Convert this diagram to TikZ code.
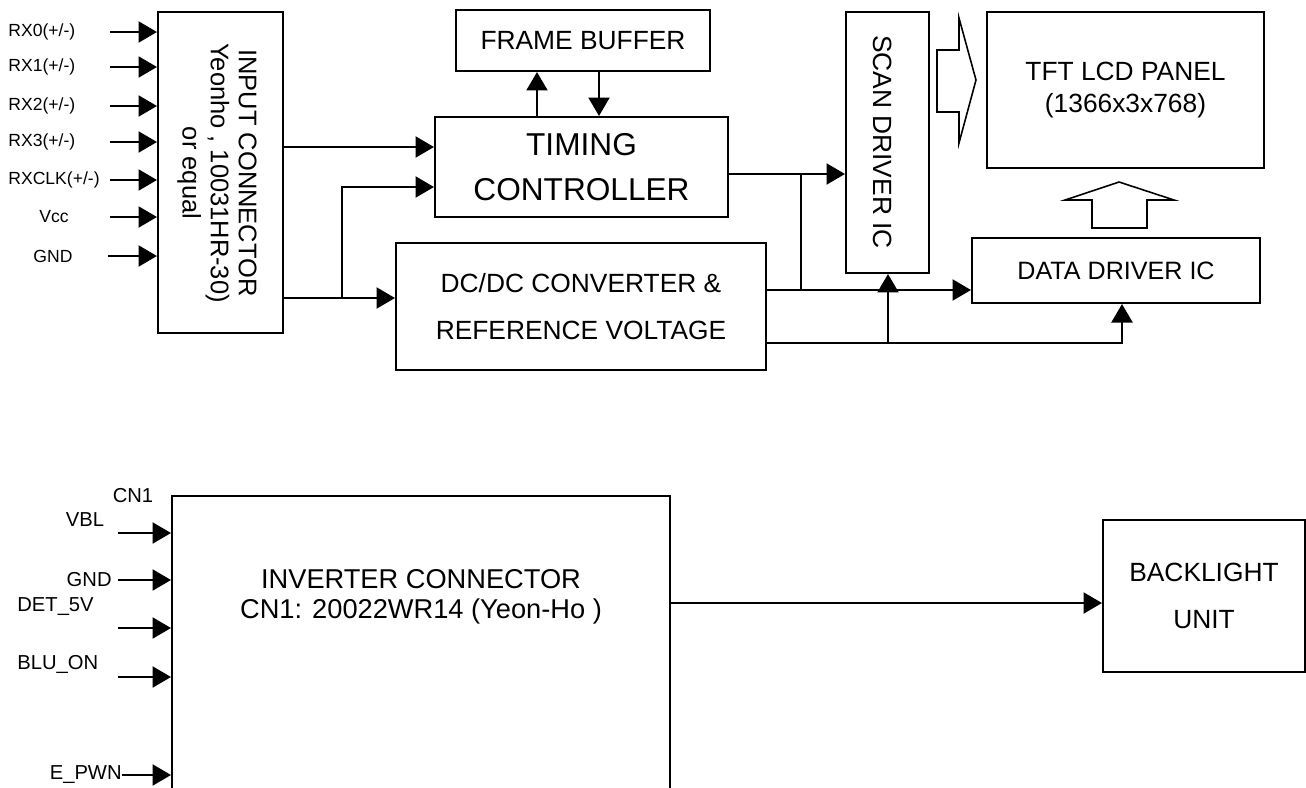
\documentclass[tikz,border=0pt]{standalone}
\usepackage{fontspec}
\setmainfont{Liberation Sans}
\usetikzlibrary{arrows.meta,positioning}

\begin{document}
\begin{tikzpicture}[x=0.02cm,y=-0.02cm,
    box/.style={draw,line width=1.2pt,inner sep=0pt,align=center},
    sig/.style={line width=1.1pt,-{Triangle[length=10.5pt,width=12pt]}},
    wire/.style={line width=1.1pt},
    hollow/.style={draw,line width=0.9pt,line join=miter},
    lbl/.style={inner sep=0pt,font=\fontsize{10}{12}\selectfont},
    blbl/.style={inner sep=0pt,font=\fontsize{11.5}{13}\selectfont}]
        \useasboundingbox (0,0) rectangle (1306,788);
        \clip (0,0) rectangle (1306,788);
        % boxes of the upper block
        \node[box,minimum width=2.5cm,minimum height=6.42cm] (inconn) at (220.5,172.5) {};
        \node[rotate=-90,align=center,inner sep=0pt,font=\fontsize{14.5}{16}\selectfont] (inconntxt) at (217,173)
            {INPUT CONNECTOR\\Yeonho , 10031HR-30)\\or equal};
        \node[box,minimum width=5.08cm,minimum height=1.22cm,font=\fontsize{15}{18}\selectfont] (frame) at (583,40.5) {FRAME BUFFER};
        \node[box,minimum width=5.86cm,minimum height=2cm,font=\fontsize{18}{26}\selectfont] (timing) at (581.5,167) {TIMING\\CONTROLLER};
        \node[box,minimum width=7.4cm,minimum height=2.54cm,font=\fontsize{15}{26.5}\selectfont] (dcdc) at (581,306.5) {DC/DC CONVERTER \&\\REFERENCE VOLTAGE};
        \node[box,minimum width=1.66cm,minimum height=5.22cm] (scan) at (887.5,142.5) {};
        \node[rotate=-90,inner sep=0pt,font=\fontsize{15}{18}\selectfont] (scantxt) at (883,142) {SCAN DRIVER IC};
        \node[box,minimum width=5.54cm,minimum height=3.12cm,font=\fontsize{15}{18}\selectfont] (tft) at (1125.5,90) {TFT LCD PANEL\\(1366x3x768)};
        \node[box,minimum width=5.76cm,minimum height=1.3cm,font=\fontsize{14.3}{17}\selectfont] (data) at (1116,270.5) {DATA DRIVER IC};

        % input pins
        \foreach \y/\t [count=\i] in {32/{RX0(+/-)},67/{RX1(+/-)},106/{RX2(+/-)},142/{RX3(+/-)},180/{RXCLK(+/-)}} {
            \node[lbl,anchor=west] (rx\i) at (8,\y) {\t};
            \coordinate (rs\i) at (110,\y);
            \draw[sig] (rs\i) -- (rs\i -| inconn.west);
        }
        \node[lbl] (vcc) at (54,217) {Vcc};
        \coordinate (vccs) at (110,217);
        \draw[sig] (vccs) -- (vccs -| inconn.west);
        \node[lbl] (gnd) at (53,256) {GND};
        \coordinate (gnds) at (108,256);
        \draw[sig] (gnds) -- (gnds -| inconn.west);

        % connections
        \draw[sig] (inconn.east |- 0,147) -- (timing.west |- 0,147);
        \coordinate (j1) at (342,298);
        \draw[sig] (inconn.east |- j1) -- (dcdc.west |- j1);
        \draw[sig] (j1) -- (342,187) -- (timing.west |- 0,187);
        \draw[sig] (timing.north -| 537,0) -- (frame.south -| 537,0);
        \draw[sig] (frame.south -| 599,0) -- (timing.north -| 599,0);
        \coordinate (j2) at (801,174);
        \draw[sig] (timing.east |- j2) -- (scan.west |- j2);
        \draw[wire] (j2) -- (801,290);
        \draw[sig] (dcdc.east |- 0,290) -- (data.west |- 0,290);
        \coordinate (j3) at (888,343);
        \draw[sig] (dcdc.east |- j3) -- (1122,343) -- (data.south -| 1122,0);
        \draw[sig] (j3) -- (scan.south -| j3);

        % hollow arrows
        \draw[hollow] (937,50) -- (959,50) -- (959,18) -- (976,80) -- (959,143) -- (959,112) -- (937,112) -- cycle;
        \draw[hollow] (1092,228) -- (1092,200) -- (1065,200) -- (1119,182) -- (1174,200) -- (1147,200) -- (1147,228) -- cycle;

        % lower block
        \node[box,minimum width=9.96cm,minimum height=6.48cm] (inv) at (421,658) {};
        \node[align=center,inner sep=0pt,font=\fontsize{15.5}{17}\selectfont] (invtxt) at (421,597)
            {INVERTER CONNECTOR\\CN1: 20022WR14 (Yeon-Ho )};
        \node[box,minimum width=4.04cm,minimum height=3.04cm,font=\fontsize{15}{27}\selectfont] (blu) at (1204,596) {BACKLIGHT\\UNIT};
        \node[blbl] (cn) at (133,496) {CN1};
        \node[blbl] (vbl) at (85,520) {VBL};
        \node[blbl,anchor=east] (gndb) at (112,580) {GND};
        \node[blbl,anchor=west] (det) at (17,607) {DET\_5V};
        \node[blbl,anchor=west] (bluon) at (17,664) {BLU\_ON};
        \node[blbl,anchor=east] (epwn) at (122,775) {E\_PWN};
        \foreach \y [count=\i] in {533,580,628,677} {
            \coordinate (bs\i) at (118,\y);
            \draw[sig] (bs\i) -- (bs\i -| inv.west);
        }
        \draw[sig] (epwn.east) -- (epwn.east -| inv.west);
        \draw[sig] (inv.east |- 0,603) -- (blu.west |- 0,603);
\end{tikzpicture}
\end{document}
